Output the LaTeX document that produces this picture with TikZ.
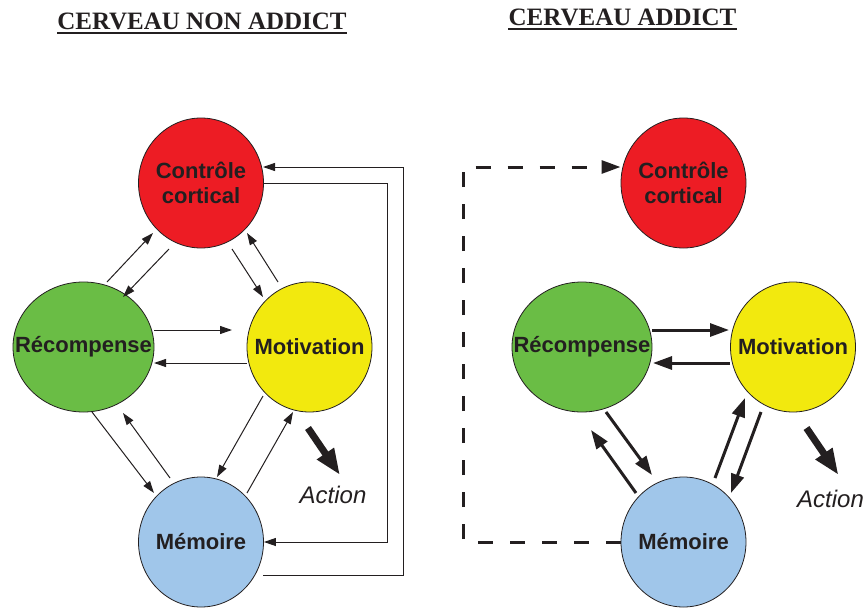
\documentclass[tikz,border=0pt]{standalone}
\usepackage{fontspec}
\setmainfont{Liberation Serif}
\setsansfont{Liberation Sans}
\usetikzlibrary{shapes.geometric,arrows.meta,calc}
\definecolor{cred}{RGB}{237,28,36}
\definecolor{cgreen}{RGB}{106,189,69}
\definecolor{cyellow}{RGB}{242,233,14}
\definecolor{cblue}{RGB}{160,198,234}
\definecolor{ink}{RGB}{35,31,32}
\begin{document}
\begin{tikzpicture}[x=1pt,y=-1pt,
  blob/.style={ellipse, draw=ink, line width=0.8pt, inner sep=0pt, minimum width=125pt, minimum height=130pt},
  lbl/.style={font=\sffamily\bfseries\fontsize{22}{25.5}\selectfont, text=ink, align=center},
  thinarr/.style={draw=ink, line width=1pt, -{Triangle[length=12pt,width=8pt]}},
  thickarr/.style={draw=ink, line width=3pt, -{Triangle[length=19pt,width=13pt]}},
  actarr/.style={draw=ink, line width=7pt, -{Triangle[length=26pt,width=19pt]}},
  acttxt/.style={font=\sffamily\itshape\fontsize{24}{28}\selectfont, text=ink},
  titletxt/.style={font=\bfseries\fontsize{25}{30}\selectfont, text=ink, inner sep=0pt, anchor=base},
  uline/.style={draw=ink, line width=2pt}
]
\useasboundingbox (0,0) rectangle (868,608);

% titles
\node[titletxt] (t1) at (202,29) {CERVEAU NON ADDICT};
\draw[uline] ($(t1.base west)+(0,4)$) -- ($(t1.base east)+(0,4)$);
\node[titletxt] (t2) at (622.5,25) {CERVEAU ADDICT};
\draw[uline] ($(t2.base west)+(0,4)$) -- ($(t2.base east)+(0,4)$);

% left diagram
\node[blob, fill=cred] (c1) at (201,183) {};
\node[lbl] at (c1) {Contrôle\\cortical};
\node[blob, fill=cgreen, minimum width=141pt] (r1) at (83.5,347) {};
\node[lbl] at (r1) {Récompense};
\node[blob, fill=cyellow] (m1) at (309.5,347) {};
\node[lbl] at (m1) {Motivation};
\node[blob, fill=cblue] (e1) at (201,542) {};
\node[lbl] at (e1) {Mémoire};
\node[acttxt] (a1) at (333,495) {Action};

\draw[thinarr] ($(r1)+(23.5,-65)$) -- ($(c1)+(-48,50)$);
\draw[thinarr] ($(c1)+(-32,66)$) -- ($(r1)+(39.5,-50)$);
\draw[thinarr] ($(c1)+(31,66)$) -- ($(m1)+(-46.5,-50)$);
\draw[thinarr] ($(m1)+(-31.5,-65)$) -- ($(c1)+(46,50)$);
\draw[thinarr] ($(r1)+(70.5,-17)$) -- ($(m1)+(-77.5,-17)$);
\draw[thinarr] ($(m1)+(-62.5,16)$) -- ($(r1)+(70.5,16)$);
\draw[thinarr] ($(r1)+(8.5,65)$) -- ($(e1)+(-47,-49)$);
\draw[thinarr] ($(e1)+(-31,-64)$) -- ($(r1)+(39.5,66)$);
\draw[thinarr] ($(m1)+(-46.5,49)$) -- ($(e1)+(16,-65)$);
\draw[thinarr] ($(e1)+(46,-49)$) -- ($(m1)+(-16.5,65)$);
\draw[actarr] ($(m1)+(-1.5,81)$) -- ($(m1)+(30.5,128)$);
\draw[thinarr] (c1.east) -- ++(124,0) |- (e1.east);
\draw[thinarr] ($(e1)+(62,33)$) -- ++(140,0) |- ($(c1)+(62,-16)$);

% right diagram
\node[blob, fill=cred] (c2) at (683.5,183) {};
\node[lbl] at (c2) {Contrôle\\cortical};
\node[blob, fill=cgreen, minimum width=140pt] (r2) at (582,347) {};
\node[lbl] at (r2) {Récompense};
\node[blob, fill=cyellow] (m2) at (793,347) {};
\node[lbl] at (m2) {Motivation};
\node[blob, fill=cblue] (e2) at (683.5,542) {};
\node[lbl] at (e2) {Mémoire};
\node[acttxt] (a2) at (830.5,499) {Action};

\draw[thickarr] ($(r2)+(70,-17)$) -- ($(m2)+(-64,-17)$);
\draw[thickarr] ($(m2)+(-63,16)$) -- ($(r2)+(71,16)$);
\draw[thickarr] ($(r2)+(24,65)$) -- ($(e2)+(-31.5,-67)$);
\draw[thickarr] ($(e2)+(-47.5,-49)$) -- ($(r2)+(9,83)$);
\draw[thickarr] ($(e2)+(31.5,-64)$) -- ($(m2)+(-48,51)$);
\draw[thickarr] ($(m2)+(-32,65)$) -- ($(e2)+(47.5,-49)$);
\draw[actarr] ($(m2)+(13.5,81)$) -- ($(m2)+(45.5,128)$);
\draw[thickarr, dash pattern=on 15pt off 17pt] (e2.west) -- ++(-157,0) |- ($(c2)+(-63,-16)$);
\end{tikzpicture}
\end{document}
